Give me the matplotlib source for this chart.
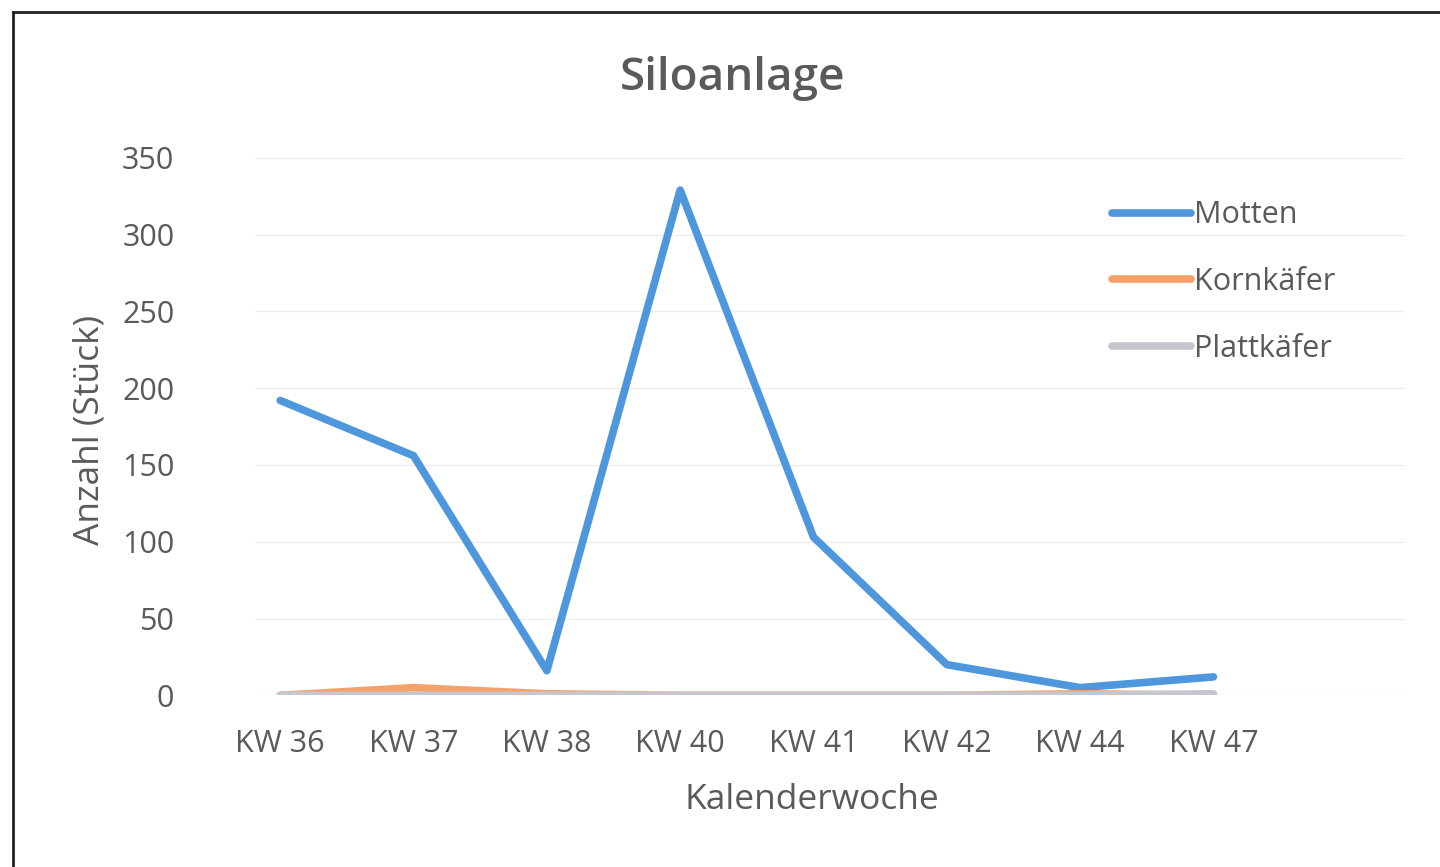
import matplotlib.pyplot as plt
from matplotlib.lines import Line2D

plt.rcParams['font.family'] = ['Open Sans', 'DejaVu Sans']

weeks = ['KW 36', 'KW 37', 'KW 38', 'KW 40', 'KW 41', 'KW 42', 'KW 44', 'KW 47']
motten = [192, 156, 16, 329, 103, 20, 5, 12]
kornkaefer = [0, 5, 1, 0, 0, 0, 1, 0]
plattkaefer = [0, 0, 0, 0, 0, 0, 0, 1]
yticks = [0, 50, 100, 150, 200, 250, 300, 350]

text_col = '#5a5a5a'

fig = plt.figure(figsize=(14.4, 8.67), dpi=100)
ax = fig.add_axes([0.177, 0.198, 0.799, 0.62])

x = list(range(len(weeks)))
# Excel draws later series on top
ax.plot(x, motten, color='#4F97DC', lw=5.5, solid_capstyle='round', label='Motten', zorder=2)
ax.plot(x, kornkaefer, color='#F4A26A', lw=5.5, solid_capstyle='round', label='Kornkäfer', zorder=3)
ax.plot(x, plattkaefer, color='#C6C6CE', lw=5.5, solid_capstyle='round', label='Plattkäfer', zorder=4)

ax.set_xlim(-0.19, 8.44)
ax.set_ylim(0, 350)
ax.set_xticks(x)
ax.set_xticklabels(weeks)
ax.set_yticks(yticks)
ax.tick_params(length=0, labelsize=22, labelcolor=text_col)
ax.tick_params(axis='x', pad=24)
ax.tick_params(axis='y', pad=58)
ax.yaxis.grid(True, color='#EEEEEE', lw=1)
ax.set_axisbelow(True)
for s in ax.spines.values():
    s.set_visible(False)

fig.text(0.509, 0.91, 'Siloanlage', fontsize=33, fontweight='semibold', color=text_col,
         ha='center', va='center')
fig.text(0.0625, 0.504, 'Anzahl (Stück)', fontsize=25.5, color=text_col, rotation=90,
         ha='center', va='center')
fig.text(0.564, 0.077, 'Kalenderwoche', fontsize=25.5, color=text_col, ha='center', va='center')

ax.legend(loc='upper left', bbox_to_anchor=(0.721, 0.972),
          frameon=False, fontsize=22, handlelength=2.6, handletextpad=0.1,
          labelspacing=1.2, labelcolor=text_col)

fig.add_artist(Line2D([0.009, 0.009], [0.0, 0.986], transform=fig.transFigure,
                      color='#222222', lw=2))
fig.add_artist(Line2D([0.009, 1.0], [0.986, 0.986], transform=fig.transFigure,
                      color='#222222', lw=2))

fig.savefig('out.png', dpi=100)
